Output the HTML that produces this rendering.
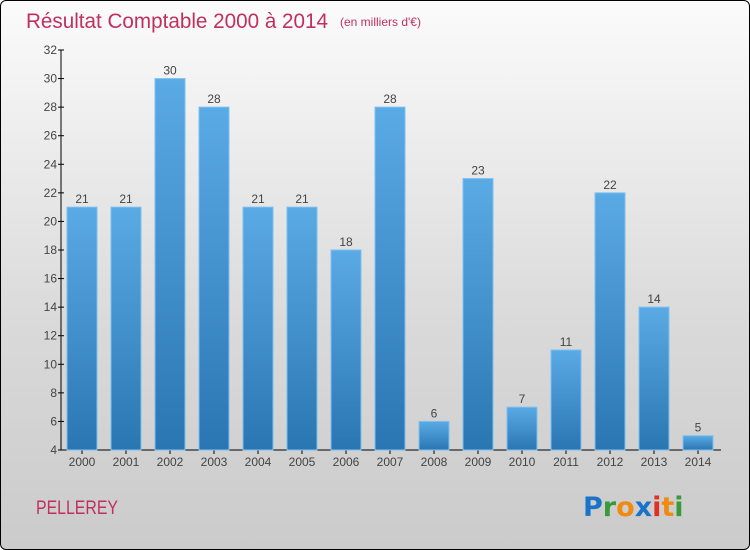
<!DOCTYPE html>
<html><head><meta charset="utf-8"><style>
html,body{margin:0;padding:0}
body{width:750px;height:550px;overflow:hidden;font-family:"Liberation Sans",sans-serif}
#wrap{position:absolute;left:0;top:0;width:748px;height:548px;border:1px solid #000;border-radius:6px;background:linear-gradient(#fbfbfb,#d9d9d9 60%,#cbcbcb)}
</style></head><body>
<div id="wrap"></div>
<svg id="chart" width="750" height="550" style="position:absolute;left:0;top:0">
<defs><linearGradient id="bg" x1="0" y1="0" x2="0" y2="1"><stop offset="0" stop-color="#5aaae6"/><stop offset="1" stop-color="#2a76b2"/></linearGradient></defs>
<text x="26" y="28" font-size="21" fill="#c0305f" textLength="302" lengthAdjust="spacingAndGlyphs">Résultat Comptable 2000 à 2014</text>
<text x="340" y="26" font-size="12" fill="#c0305f">(en milliers d'€)</text>
<text x="36" y="514" font-size="19" fill="#c0305f" textLength="82" lengthAdjust="spacingAndGlyphs">PELLEREY</text>
<g font-size="27" font-weight="bold" font-family="'DejaVu Sans',sans-serif">
<text x="583" y="516"><tspan fill="#1a73c8">P</tspan><tspan fill="#3a9a3a">r</tspan><tspan fill="#f08a10">o</tspan><tspan fill="#1a73c8">x</tspan><tspan fill="#e03020">i</tspan><tspan fill="#f08a10">t</tspan><tspan fill="#3a9a3a">i</tspan></text></g>
<g id="axes"></g><g id="bars"></g>
</svg>
<script>
const categories=["2000","2001","2002","2003","2004","2005","2006","2007","2008","2009","2010","2011","2012","2013","2014"];
const values=[21,21,30,28,21,21,18,28,6,23,7,11,22,14,5];
const yTicks=[4,6,8,10,12,14,16,18,20,22,24,26,28,30,32];
const NS="http://www.w3.org/2000/svg";
const y=v=>450-(v-4)*(400/28);
const x=i=>82+i*44;
function mk(t,a,p){const e=document.createElementNS(NS,t);for(const k in a)e.setAttribute(k,a[k]);p.appendChild(e);return e;}
const ax=document.getElementById('axes'),bs=document.getElementById('bars');
let l=mk('line',{x1:61,y1:50,x2:61,y2:450,stroke:'#000'},ax);


l=mk('line',{x1:61,y1:450,x2:721,y2:450,stroke:'#000'},ax);


yTicks.forEach(v=>{
 mk('line',{x1:58,x2:64,y1:y(v),y2:y(v),stroke:'#000'},ax);
 const t=mk('text',{x:57,y:y(v)+4,'text-anchor':'end','font-size':12,fill:'#444'},ax);t.textContent=v;
 
 
});
categories.forEach((c,i)=>{
 mk('line',{x1:x(i),x2:x(i),y1:450,y2:454,stroke:'#000'},ax);
 const t=mk('text',{x:x(i),y:466,'text-anchor':'middle','font-size':12,fill:'#444'},ax);t.textContent=c;
 
 
 const b=mk('rect',{x:x(i)-15,y:y(values[i]),width:30,height:450-y(values[i]),fill:'url(#bg)',stroke:'#7cc0f0','stroke-width':1},bs);
 
 
 const vl=mk('text',{x:x(i),y:y(values[i])-4,'text-anchor':'middle','font-size':12,fill:'#444'},bs);vl.textContent=values[i];
 
 
});
</script>
</body></html>
